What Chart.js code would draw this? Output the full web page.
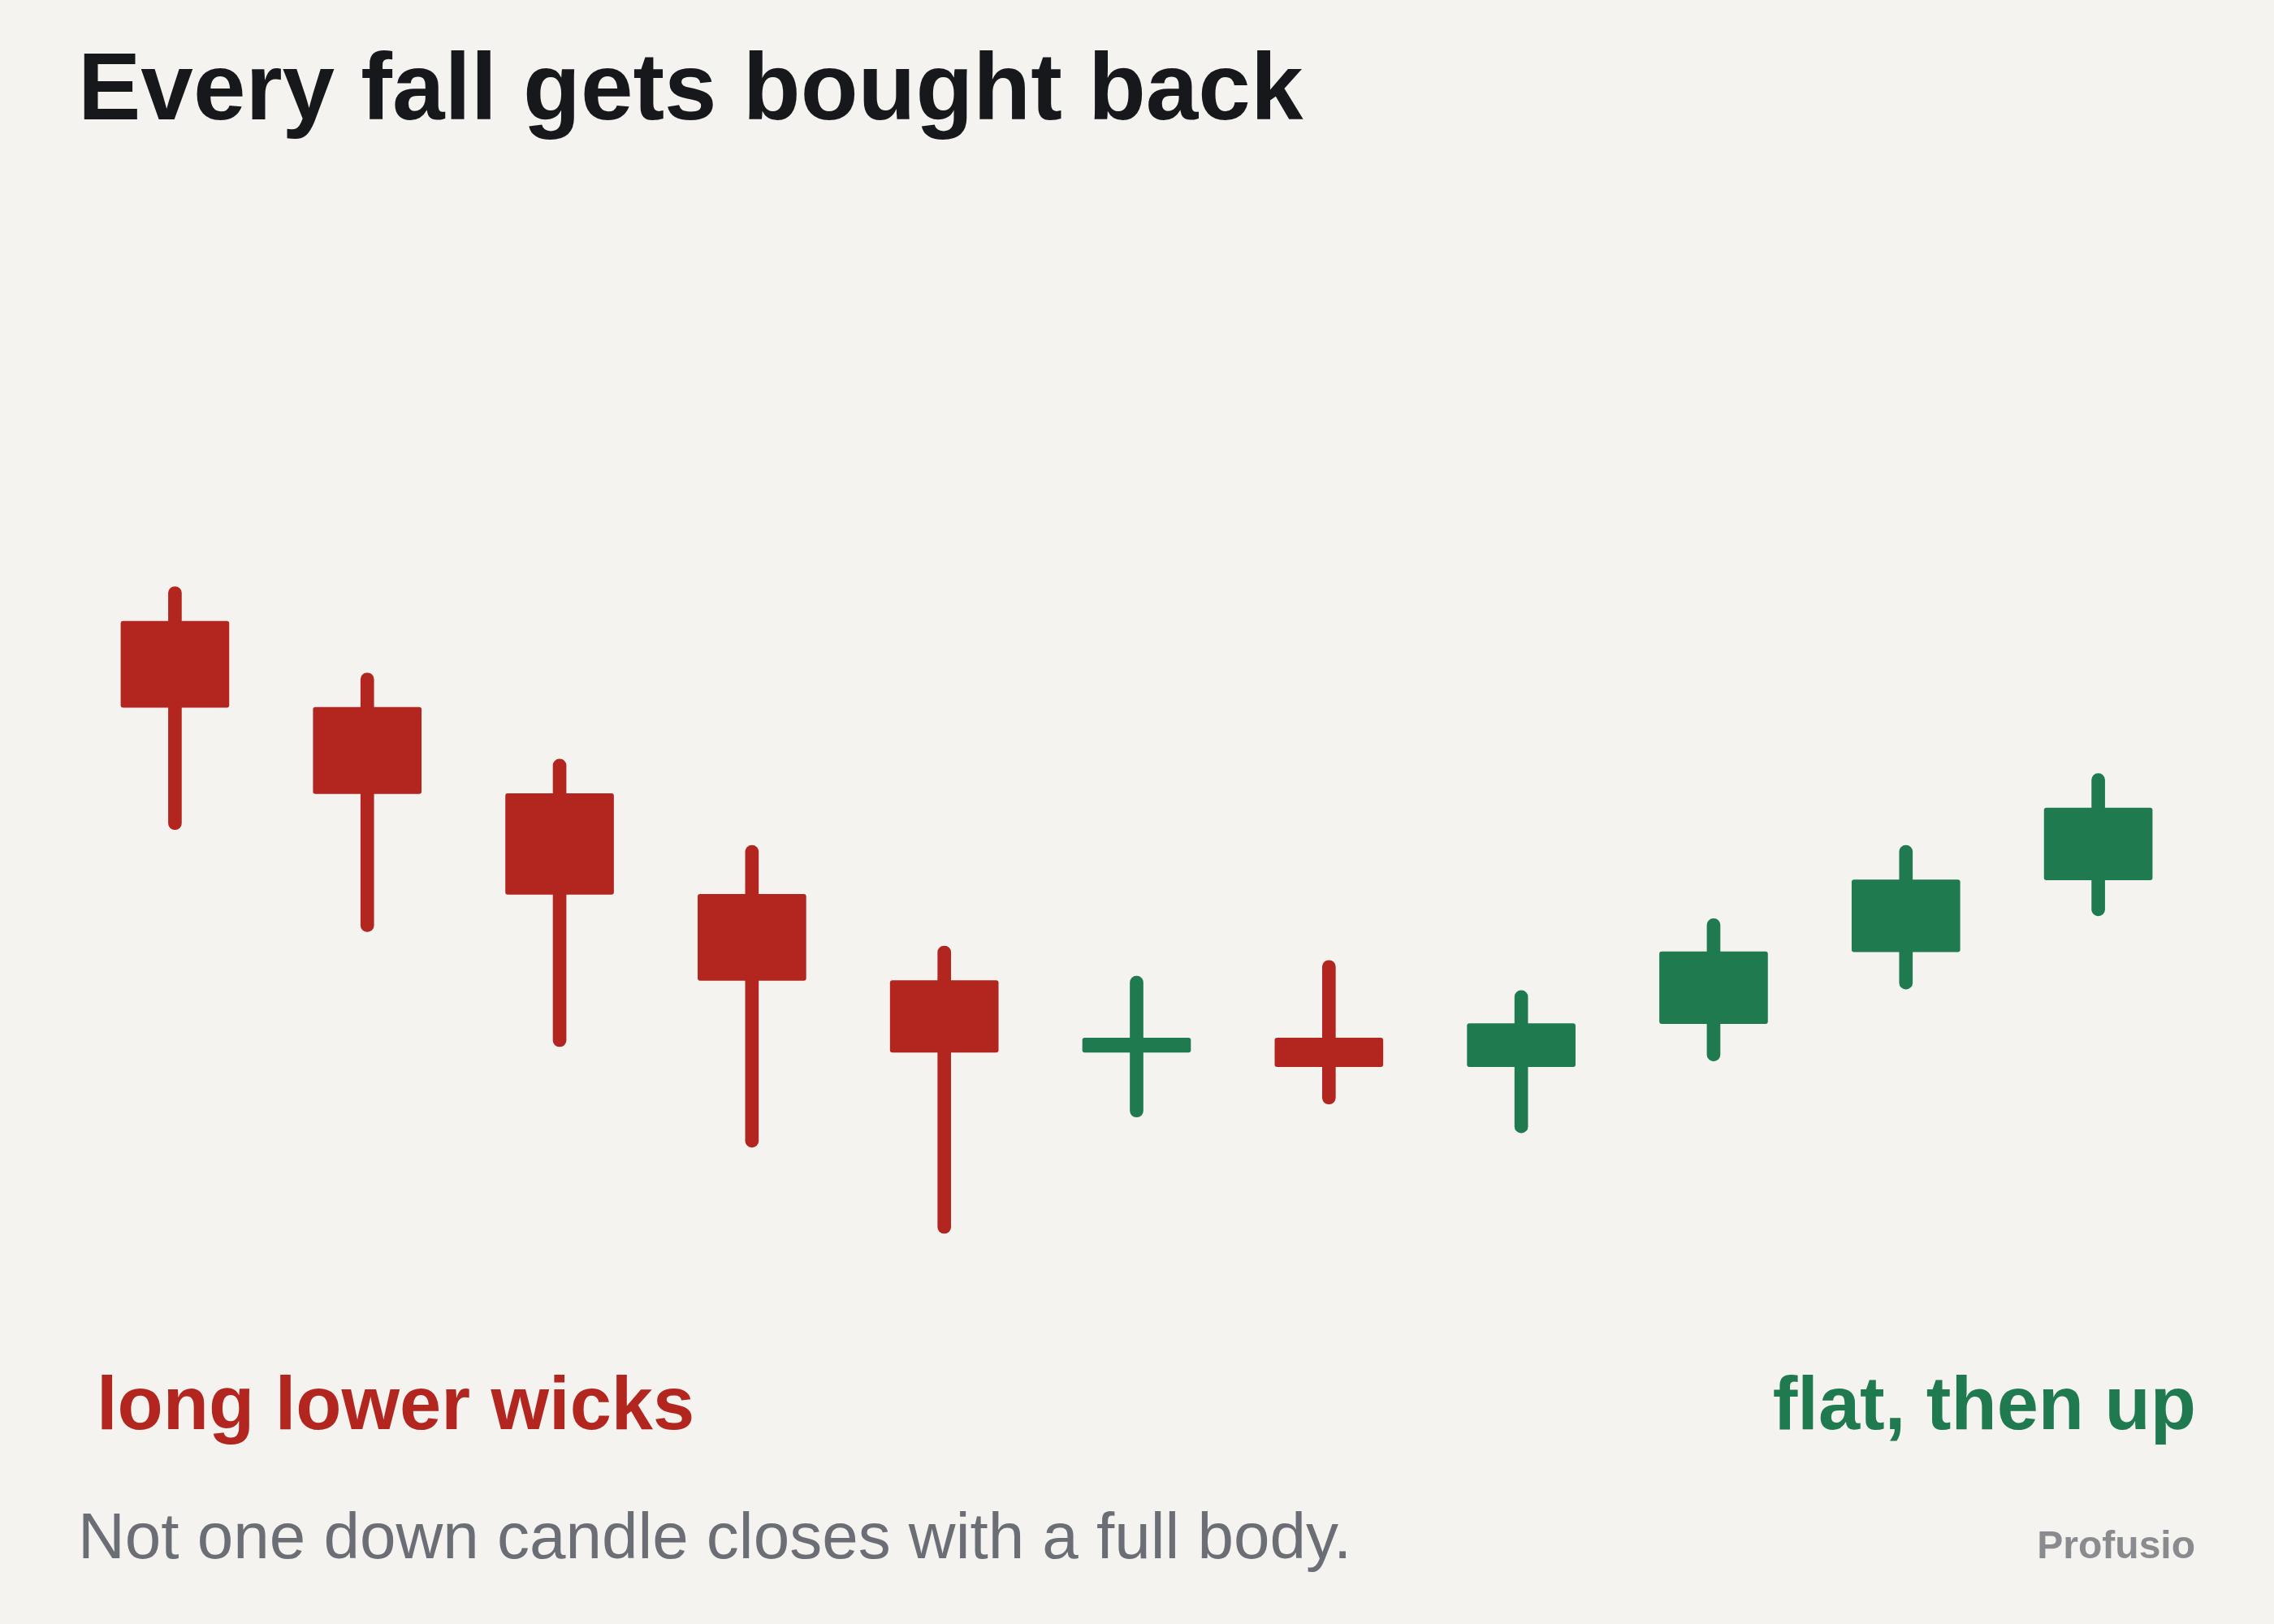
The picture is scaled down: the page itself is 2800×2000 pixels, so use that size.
<!DOCTYPE html>
<html>
<head>
<meta charset="utf-8">
<script src="https://cdn.jsdelivr.net/npm/chart.js@4.4.1/dist/chart.umd.min.js"></script>
<style>
  html, body { margin: 0; padding: 0; background: #f4f3ef; }
  #wrap { position: relative; width: 2800px; height: 2000px; background: #f4f3ef; overflow: hidden; }
  #chart { position: absolute; left: 0; top: 0; }
  .txt { position: absolute; font-family: "Liberation Sans", Helvetica, Arial, sans-serif; line-height: 1; white-space: nowrap; }
  #title { left: 96px; top: 49px; font-size: 116px; font-weight: bold; color: #16181c; }
  #noteLeft { left: 119px; top: 1682px; font-size: 92px; font-weight: bold; color: #b2261f; }
  #noteRight { right: 96px; top: 1682px; font-size: 92px; font-weight: bold; color: #1f7a4f; }
  #sub { left: 96px; top: 1852px; font-size: 80px; color: #6b6e75; }
  #brand { right: 97px; top: 1879px; font-size: 48px; font-weight: bold; color: #8a8b8f; }
</style>
</head>
<body>
<div id="wrap">
  <canvas id="chart" width="2800" height="2000"></canvas>
  <div class="txt" id="title">Every fall gets bought back</div>
  <div class="txt" id="noteLeft">long lower wicks</div>
  <div class="txt" id="noteRight">flat, then up</div>
  <div class="txt" id="sub">Not one down candle closes with a full body.</div>
  <div class="txt" id="brand">Profusio</div>
</div>
<script>
// ---------- datos ----------
const sessions = ['1', '2', '3', '4', '5', '6', '7', '8', '9', '10', '11'];
const opens  = [100, 94, 88, 81, 75, 70, 71, 69, 72, 77, 82];
const closes = [94, 88, 81, 75, 70, 71, 69, 72, 77, 82, 87];
const highs  = [102.4, 96.4, 90.4, 84.4, 77.4, 75.3, 76.4, 74.3, 79.3, 84.4, 89.4];
const lows   = [85.5, 78.4, 70.4, 63.4, 57.4, 65.5, 66.4, 64.4, 69.4, 74.4, 79.5];

const RED = '#b2261f';
const GREEN = '#1f7a4f';

const colors = opens.map((o, i) => closes[i] >= o ? GREEN : RED);

const ctx = document.getElementById('chart');

new Chart(ctx, {
    type: 'bar',
    data: {
        labels: sessions,
        datasets: [
            {
                label: 'Rango',
                data: sessions.map((_, i) => [lows[i], highs[i]]),
                backgroundColor: colors,
                barThickness: 16,
                borderRadius: 8,
                borderSkipped: false,
                grouped: false,
                order: 2
            },
            {
                label: 'Cuerpo',
                data: sessions.map((_, i) => [opens[i], closes[i]]),
                backgroundColor: colors,
                barThickness: 133,
                borderRadius: 3,
                borderSkipped: false,
                grouped: false,
                order: 1
            }
        ]
    },
    options: {
        responsive: false,
        devicePixelRatio: 1,
        animation: false,
        layout: {
            padding: { left: 97, right: 98, top: 588, bottom: 350 }
        },
        plugins: {
            legend: { display: false },
            tooltip: { enabled: false }
        },
        scales: {
            x: {
                display: false,
                offset: true,
                grid: { display: false }
            },
            y: {
                display: false,
                min: 50,
                max: 110,
                grid: { display: false }
            }
        }
    }
});
</script>
</body>
</html>
